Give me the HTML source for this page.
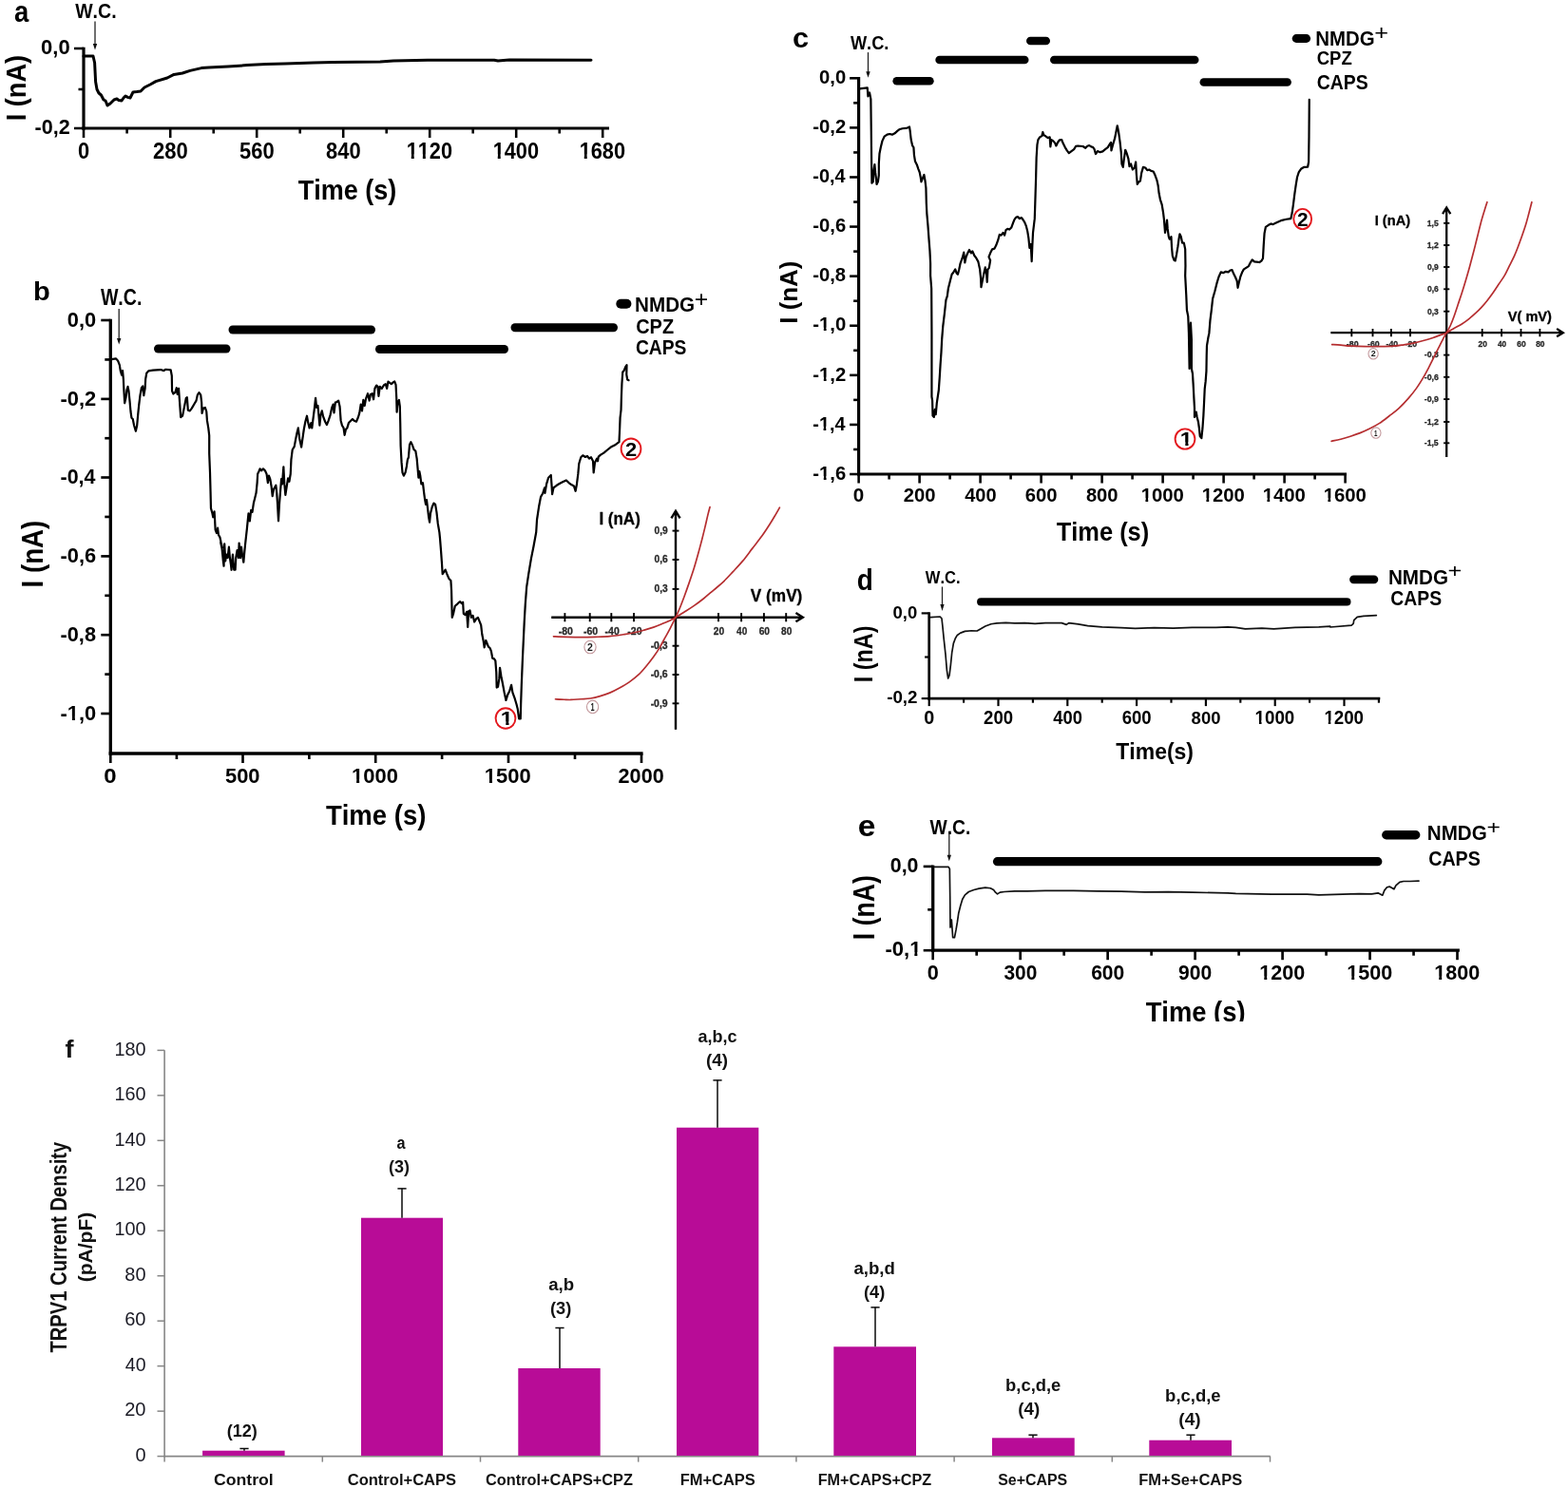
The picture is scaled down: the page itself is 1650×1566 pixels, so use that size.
<!DOCTYPE html>
<html lang="en"><head><meta charset="utf-8"><title>TRPV1 current density figure</title>
<style>html,body{margin:0;padding:0;background:#fff}body{width:1650px;height:1566px;overflow:hidden}svg{display:block}text{font-family:"Liberation Sans",sans-serif;font-kerning:none}</style>
</head><body>
<svg width="1650" height="1566" viewBox="0 0 1650 1566">
<rect width="1650" height="1566" fill="#fff"/>
<g id="panel-a">
<text transform="translate(15.08 22.8) scale(0.8527 1)" font-size="32.22" font-weight="bold" fill="#000">a</text>
<text transform="translate(79.2 18.5) scale(0.8641 1)" font-size="22.61" font-weight="bold" fill="#000">W.C.</text>
<line x1="100" y1="22.4" x2="100" y2="49.4" stroke="#222" stroke-width="1.3" stroke-linecap="butt"/>
<path d="M97.8 45.9L102.2 45.9L100 52.4Z" fill="#111"/>
<line x1="88" y1="49.72" x2="88" y2="136.6" stroke="#000" stroke-width="3.2" stroke-linecap="butt"/>
<line x1="86.4" y1="135" x2="641" y2="135" stroke="#000" stroke-width="3.2" stroke-linecap="butt"/>
<line x1="88" y1="135" x2="88" y2="145" stroke="#000" stroke-width="2.56" stroke-linecap="butt"/>
<line x1="179.2" y1="135" x2="179.2" y2="145" stroke="#000" stroke-width="2.56" stroke-linecap="butt"/>
<line x1="270.2" y1="135" x2="270.2" y2="145" stroke="#000" stroke-width="2.56" stroke-linecap="butt"/>
<line x1="361.2" y1="135" x2="361.2" y2="145" stroke="#000" stroke-width="2.56" stroke-linecap="butt"/>
<line x1="452.2" y1="135" x2="452.2" y2="145" stroke="#000" stroke-width="2.56" stroke-linecap="butt"/>
<line x1="543.2" y1="135" x2="543.2" y2="145" stroke="#000" stroke-width="2.56" stroke-linecap="butt"/>
<line x1="634.2" y1="135" x2="634.2" y2="145" stroke="#000" stroke-width="2.56" stroke-linecap="butt"/>
<line x1="133.6" y1="135" x2="133.6" y2="140.5" stroke="#000" stroke-width="2.56" stroke-linecap="butt"/>
<line x1="224.7" y1="135" x2="224.7" y2="140.5" stroke="#000" stroke-width="2.56" stroke-linecap="butt"/>
<line x1="315.7" y1="135" x2="315.7" y2="140.5" stroke="#000" stroke-width="2.56" stroke-linecap="butt"/>
<line x1="406.7" y1="135" x2="406.7" y2="140.5" stroke="#000" stroke-width="2.56" stroke-linecap="butt"/>
<line x1="497.7" y1="135" x2="497.7" y2="140.5" stroke="#000" stroke-width="2.56" stroke-linecap="butt"/>
<line x1="588.7" y1="135" x2="588.7" y2="140.5" stroke="#000" stroke-width="2.56" stroke-linecap="butt"/>
<line x1="78" y1="51" x2="88" y2="51" stroke="#000" stroke-width="2.56" stroke-linecap="butt"/>
<line x1="78" y1="135" x2="88" y2="135" stroke="#000" stroke-width="2.56" stroke-linecap="butt"/>
<line x1="82.5" y1="94" x2="88" y2="94" stroke="#000" stroke-width="2.56" stroke-linecap="butt"/>
<text transform="translate(81.92 166.6) scale(0.9177 1)" font-size="23.86" font-weight="bold" fill="#000">0</text>
<text transform="translate(160.93 166.6) scale(0.9227 1)" font-size="23.86" font-weight="bold" fill="#000">280</text>
<text transform="translate(252.04 166.6) scale(0.9198 1)" font-size="23.86" font-weight="bold" fill="#000">560</text>
<text transform="translate(343.04 166.6) scale(0.9198 1)" font-size="23.86" font-weight="bold" fill="#000">840</text>
<clipPath id="nf1"><path clip-rule="evenodd" d="M-500 -500H2000V500H-500ZM0.5 -4.23H5.57V1H0.5ZM8.84 -4.23H13.6V1H8.84ZM13.77 -4.23H18.84V1H13.77ZM22.11 -4.23H26.87V1H22.11Z"/></clipPath>
<text transform="translate(427.68 166.6) scale(0.9117 1)" font-size="23.86" font-weight="bold" fill="#000" clip-path="url(#nf1)">1120</text>
<clipPath id="nf2"><path clip-rule="evenodd" d="M-500 -500H2000V500H-500ZM0.5 -4.23H5.57V1H0.5ZM8.84 -4.23H13.6V1H8.84Z"/></clipPath>
<text transform="translate(518.68 166.6) scale(0.9117 1)" font-size="23.86" font-weight="bold" fill="#000" clip-path="url(#nf2)">1400</text>
<clipPath id="nf3"><path clip-rule="evenodd" d="M-500 -500H2000V500H-500ZM0.5 -4.23H5.57V1H0.5ZM8.84 -4.23H13.6V1H8.84Z"/></clipPath>
<text transform="translate(609.68 166.6) scale(0.9117 1)" font-size="23.86" font-weight="bold" fill="#000" clip-path="url(#nf3)">1680</text>
<text transform="translate(43.02 57.4) scale(0.9836 1)" font-size="22.43" font-weight="bold" fill="#000">0,0</text>
<text transform="translate(36.54 141.4) scale(0.9624 1)" font-size="22.43" font-weight="bold" fill="#000">-0,2</text>
<text transform="translate(313.73 209.6) scale(0.9139 1)" font-size="29.57" font-weight="bold" fill="#000">Time (s)</text>
<text transform="translate(27.1 127.37) rotate(-90) scale(0.9071 1)" font-size="30" font-weight="bold" fill="#000">I (nA)</text>
<path d="M88 59L98 59L99.6 66L100.6 86L102 94L104 98L106.4 100L109 105L111 106L113 111L116 109L120 105L123 104L125 105.6L128 106L130 103L132 101L134.4 102.4L137 103L140 97L144 96.6L148 96L152 92L158 89L164 85.6L176 82L183 78.4L192 77L200 74.4L212 71.6L220 71L240 70L260 68.6L280 67.6L300 67L330 66L350 65.4L400 65L414 64L450 63.2L520 63.2L524 64L536 63L622 63.2" fill="none" stroke="#000" stroke-width="3" stroke-linejoin="round" stroke-linecap="round"/>
</g>
<g id="panel-b">
<text transform="translate(35.01 316.3) scale(1.0767 1)" font-size="27.03" font-weight="bold" fill="#000">b</text>
<text transform="translate(105.9 321.1) scale(0.8289 1)" font-size="23.62" font-weight="bold" fill="#000">W.C.</text>
<line x1="125.2" y1="325" x2="125.2" y2="359.5" stroke="#222" stroke-width="1.3" stroke-linecap="butt"/>
<path d="M123 356L127.4 356L125.2 362.5Z" fill="#111"/>
<line x1="116.3" y1="335.68" x2="116.3" y2="794.65" stroke="#000" stroke-width="3.3" stroke-linecap="butt"/>
<line x1="114.65" y1="793" x2="676.6" y2="793" stroke="#000" stroke-width="3.3" stroke-linecap="butt"/>
<line x1="116.3" y1="793" x2="116.3" y2="803" stroke="#000" stroke-width="2.64" stroke-linecap="butt"/>
<line x1="255.5" y1="793" x2="255.5" y2="803" stroke="#000" stroke-width="2.64" stroke-linecap="butt"/>
<line x1="395.2" y1="793" x2="395.2" y2="803" stroke="#000" stroke-width="2.64" stroke-linecap="butt"/>
<line x1="535" y1="793" x2="535" y2="803" stroke="#000" stroke-width="2.64" stroke-linecap="butt"/>
<line x1="675" y1="793" x2="675" y2="803" stroke="#000" stroke-width="2.64" stroke-linecap="butt"/>
<line x1="185.9" y1="793" x2="185.9" y2="799" stroke="#000" stroke-width="2.64" stroke-linecap="butt"/>
<line x1="325.35" y1="793" x2="325.35" y2="799" stroke="#000" stroke-width="2.64" stroke-linecap="butt"/>
<line x1="465.1" y1="793" x2="465.1" y2="799" stroke="#000" stroke-width="2.64" stroke-linecap="butt"/>
<line x1="605" y1="793" x2="605" y2="799" stroke="#000" stroke-width="2.64" stroke-linecap="butt"/>
<line x1="106.3" y1="337" x2="116.3" y2="337" stroke="#000" stroke-width="2.64" stroke-linecap="butt"/>
<line x1="106.3" y1="419.9" x2="116.3" y2="419.9" stroke="#000" stroke-width="2.64" stroke-linecap="butt"/>
<line x1="106.3" y1="502.5" x2="116.3" y2="502.5" stroke="#000" stroke-width="2.64" stroke-linecap="butt"/>
<line x1="106.3" y1="585.4" x2="116.3" y2="585.4" stroke="#000" stroke-width="2.64" stroke-linecap="butt"/>
<line x1="106.3" y1="668.2" x2="116.3" y2="668.2" stroke="#000" stroke-width="2.64" stroke-linecap="butt"/>
<line x1="106.3" y1="751" x2="116.3" y2="751" stroke="#000" stroke-width="2.64" stroke-linecap="butt"/>
<line x1="110.3" y1="378.45" x2="116.3" y2="378.45" stroke="#000" stroke-width="2.64" stroke-linecap="butt"/>
<line x1="110.3" y1="461.2" x2="116.3" y2="461.2" stroke="#000" stroke-width="2.64" stroke-linecap="butt"/>
<line x1="110.3" y1="543.95" x2="116.3" y2="543.95" stroke="#000" stroke-width="2.64" stroke-linecap="butt"/>
<line x1="110.3" y1="626.8" x2="116.3" y2="626.8" stroke="#000" stroke-width="2.64" stroke-linecap="butt"/>
<line x1="110.3" y1="709.6" x2="116.3" y2="709.6" stroke="#000" stroke-width="2.64" stroke-linecap="butt"/>
<text transform="translate(109.24 823.8) scale(1.0839 1)" font-size="22.14" font-weight="bold" fill="#000">0</text>
<text transform="translate(236.94 823.8) scale(0.9910 1)" font-size="22.14" font-weight="bold" fill="#000">500</text>
<clipPath id="nf4"><path clip-rule="evenodd" d="M-500 -500H2000V500H-500ZM0.39 -4.06H5.17V1H0.39ZM8.21 -4.06H12.7V1H8.21Z"/></clipPath>
<text transform="translate(370.01 823.8) scale(0.9929 1)" font-size="22.14" font-weight="bold" fill="#000" clip-path="url(#nf4)">1000</text>
<clipPath id="nf5"><path clip-rule="evenodd" d="M-500 -500H2000V500H-500ZM0.39 -4.06H5.17V1H0.39ZM8.21 -4.06H12.7V1H8.21Z"/></clipPath>
<text transform="translate(509.81 823.8) scale(0.9929 1)" font-size="22.14" font-weight="bold" fill="#000" clip-path="url(#nf5)">1500</text>
<text transform="translate(650.59 823.8) scale(0.9767 1)" font-size="22.14" font-weight="bold" fill="#000">2000</text>
<text transform="translate(70.83 343.6) scale(0.9924 1)" font-size="22" font-weight="bold" fill="#000">0,0</text>
<text transform="translate(63.52 426.5) scale(0.9950 1)" font-size="22" font-weight="bold" fill="#000">-0,2</text>
<text transform="translate(63.54 509.1) scale(0.9742 1)" font-size="22" font-weight="bold" fill="#000">-0,4</text>
<text transform="translate(63.53 592) scale(0.9920 1)" font-size="22" font-weight="bold" fill="#000">-0,6</text>
<text transform="translate(63.53 674.8) scale(0.9890 1)" font-size="22" font-weight="bold" fill="#000">-0,8</text>
<clipPath id="nf6"><path clip-rule="evenodd" d="M-500 -500H2000V500H-500ZM7.71 -4.05H12.46V1H7.71ZM15.48 -4.05H19.95V1H15.48Z"/></clipPath>
<text transform="translate(63.52 757.6) scale(0.9950 1)" font-size="22" font-weight="bold" fill="#000" clip-path="url(#nf6)">-1,0</text>
<text transform="translate(342.93 868.2) scale(0.9300 1)" font-size="29.57" font-weight="bold" fill="#000">Time (s)</text>
<text transform="translate(45.4 618.5) rotate(-90) scale(0.8663 1)" font-size="32.03" font-weight="bold" fill="#000">I (nA)</text>
<line x1="166.5" y1="367" x2="238" y2="367" stroke="#000" stroke-width="9" stroke-linecap="round"/>
<line x1="245" y1="347" x2="390.5" y2="347" stroke="#000" stroke-width="9" stroke-linecap="round"/>
<line x1="399.5" y1="367.5" x2="530.5" y2="367.5" stroke="#000" stroke-width="9" stroke-linecap="round"/>
<line x1="542" y1="344.8" x2="645.5" y2="344.8" stroke="#000" stroke-width="9" stroke-linecap="round"/>
<line x1="653.3" y1="319.8" x2="659.4" y2="319.8" stroke="#000" stroke-width="10" stroke-linecap="round"/>
<text transform="translate(668.06 328) scale(0.9252 1)" font-size="22.32" font-weight="bold" fill="#000">NMDG</text>
<text transform="translate(730.86 322.5) scale(1.0709 1)" font-size="23.1" font-weight="normal" fill="#000">+</text>
<text transform="translate(669.2 350.7) scale(0.9176 1)" font-size="21.74" font-weight="bold" fill="#000">CPZ</text>
<text transform="translate(668.93 372.7) scale(0.8801 1)" font-size="21.88" font-weight="bold" fill="#000">CAPS</text>
<path d="M116.03 378.31L122.07 377.37L124.08 379.65L125.82 384.08L126.76 390.11L128.1 394.8L129.04 390.11L129.84 398.82L130.38 410.22L131.18 424.3L132.52 418.26L133.46 410.22L134.53 406.87L135.47 411.56L136.55 422.29L137.48 433.01L138.42 439.71L139.76 441.06L141.1 447.76L142.85 453.79L144.19 447.76L145.13 437.03L146.2 426.31L147.54 415.58L148.88 408.21L150.22 406.47L151.29 416.25L152.63 408.88L153.17 398.82L154.24 392.79L156.25 390.38L160.95 389.57L168.99 389.04L172.34 390.11L174.35 388.77L179.71 389.44L180.79 395.47L181.06 411.56L182.4 414.51L184.41 412.9L185.75 408.21L186.69 414.91L188.03 408.88L189.1 423.63L190.17 439.04L192.05 437.7L193.79 428.99L195.8 418.93L196.87 418.26L197.81 431.67L199.82 432.34L201.84 429.66L204.52 424.97L206.53 421.62L207.87 415.58L209.48 413.17L211.22 415.58L212.16 423.63L212.56 435.02L213.9 429.66L215.91 428.99L217.25 433.01L217.92 442.4L219.26 450.44L220.2 458.48L220.2 477.25L221.01 497.36L221.54 517.47L221.95 534.9L223.29 539.59L224.22 544.29L225.57 538.25L226.1 546.97L226.64 557.69L227.98 561.04L229.05 555.68L229.99 563.06L231.33 565.07L232.67 571.1L234.01 576.46L232.18 570.95L233.52 576.98L234.19 583.68L234.86 590.38L235.53 595.75L236.2 572.29L237.2 590.38L238.21 583.68L239.55 587.03L240.89 575.64L241.9 587.03L242.9 593.74L243.57 599.77L244.91 583.68L246.25 599.77L247.59 599.77L248.26 587.03L249.6 578.99L250.95 587.03L251.62 571.62L252.96 587.03L253.96 575.64L254.97 583.68L256.31 591.73L257.31 580.33L257.98 573.63L258.55 568.42L259.89 556.35L260.82 546.97L261.49 540.26L262.84 548.31L264.18 536.91L265.52 538.92L266.86 529.54L268.2 524.18L269.54 518.81L270.61 508.09L271.15 498.7L272.49 496.02L273.56 493.34L275.17 495.35L276.91 493.34L278.92 495.35L280.53 498.7L281.87 508.09L282.95 500.71L284.29 504.07L285.63 512.11L286.7 522.17L288.04 514.79L290.32 510.77L291.26 518.81L292.06 530.88L293 548.31L293.94 530.88L295.01 517.47L296.08 504.07L297.02 509.43L298.36 491.33L299.3 509.43L300.37 520.82L301.71 512.11L303.06 503.4L304.4 506.75L305.74 498.7L306.41 483.96L307.75 473.23L309.76 469.88L311.1 462.51L312.44 455.8L313.78 450.44L315.12 461.17L317.13 470.55L318.47 461.17L319.81 451.78L321.34 443.74L322.95 437.7L324.29 445.08L325.63 450.44L327.37 445.08L328.31 450.44L329.65 439.71L330.99 428.99L332.07 418.93L333.14 428.99L334.48 426.98L335.42 437.03L336.36 447.76L337.43 437.03L338.77 432.34L340.11 438.37L342.12 443.74L343.86 447.09L345.47 443.07L347.48 437.03L349.23 428.99L350.57 425.64L351.51 434.35L352.85 423.63L354.59 422.96L356.2 421.62L357.54 427.65L358.61 442.4L359.95 447.76L361.56 450.44L362.63 457.81L363.97 451.78L365.31 450.44L366.92 445.08L368.93 443.07L370.95 441.06L372.96 443.07L374.97 443.74L376.98 439.04L378.32 434.35L379.66 425.64L381 432.34L382.34 420.95L383.68 426.98L385.02 419.6L387.03 414.24L388.64 421.62L389.98 414.91L391.73 414.24L393.07 420.27L394.41 408.88L396.15 405.53L397.49 406.87L398.43 416.92L399.77 406.87L401.78 408.88L403.79 405.53L405.8 404.19L407.14 408.88L408.48 401.51L410.09 402.85L411.84 404.19L413.85 402.18L415.19 401.51L416.53 404.86L417.2 418.26L417.6 433.68L418.54 423.63L419.88 420.95L420.82 427.65L421.22 445.08L421.62 469.21L422.56 486.64L423.5 497.36L424.84 500.71L426.58 497.36L427.92 490.66L428.86 483.96L429.93 481.27L431.01 467.87L432.35 465.19L433.96 468.54L435.57 473.23L437.31 474.57L438.65 482.62L439.59 493.34L440.39 502.73L441.33 496.02L442.27 500.71L443.34 509.43L444.95 508.09L446.02 517.47L447.09 525.52L448.03 530.88L448.97 526.19L450.04 534.9L451.12 544.29L452.06 549.65L452.99 540.26L454.74 533.56L456.48 529.54L458.09 530.88L459.43 538.92L460.77 550.99L462.38 560.37L463.01 566.7L464.08 580.11L465.02 593.52L465.69 604.24L467.03 602.23L468.64 599.55L470.38 604.24L472.4 608.93L474.41 610.95L475.08 621.67L475.75 649.82L477.09 645.8L478.83 637.76L480.44 636.42L482.45 634.41L484.19 633.07L485.8 635.08L487.14 633.74L487.81 645.8L489.56 647.14L491.17 643.79L492.24 659.88L493.18 643.12L494.52 642.45L495.86 649.82L497.6 647.81L499.21 654.52L501.22 651.17L502.96 649.82L504.57 653.85L506.18 657.87L507.25 667.25L508.59 673.96L509.67 681.33L511.27 673.96L512.88 677.98L513.96 680.66L515.57 682L516.91 685.35L518.25 692.73L519.99 693.4L521.33 695.41L522.27 707.47L522.67 723.56L524.01 722.89L525.35 714.18L526.02 702.78L527.36 711.49L528.97 719.54L530.71 728.92L532.46 736.97L534.07 731.6L536.08 727.58L538.09 720.88L539.43 728.92L541.44 734.29L543.45 740.99L544.79 746.35L546.13 756.41L547.74 756.41L548.14 740.99L548.81 720.88L549.89 694.07L550.82 673.96L551.76 653.85L552.84 635.08L554.18 617.65L556.19 604.24L558.87 588.15L561.55 574.75L564.23 560L565.02 546.97L567.03 533.56L569.04 522.84L571.06 519.48L573.07 513.45L573.47 518.81L575.08 509.43L577.09 502.73L579.77 500.04L580.44 509.43L581.11 520.15L582.45 513.45L585.8 510.77L589.15 508.76L592.51 507.02L595.86 505.41L598.54 508.09L601.22 510.1L603.9 511.44L605.64 516.8L606.98 509.43L608.33 498.7L609.26 487.98L611.27 481.27L613.29 479.26L615.97 481.01L617.98 479.93L619.99 482.62L622 481.27L624.01 485.3L624.68 497.36L626.02 486.64L628.03 482.62L628.97 485.3L629.78 480.6L632.06 478.59L635.41 476.58L639.43 473.23L642.78 470.55L646.8 468.54L651.49 465.19L652.17 450.44L652.57 439.71L653.51 431.67L653.91 416.92L654.44 403.52L655.25 391.45L656.59 390.11L658.2 386.09L659.54 384.08L659.27 394.13L660.21 399.49L661.55 400.16" fill="none" stroke="#000" stroke-width="2.2" stroke-linejoin="round" stroke-linecap="round"/>
<ellipse cx="664" cy="472.5" rx="10.4" ry="11" fill="#fff" stroke="#e3171d" stroke-width="1.9"/>
<text transform="translate(657.98 479.7) scale(1.0417 1)" font-size="21" font-weight="bold" fill="#000">2</text>
<ellipse cx="532" cy="756" rx="10.4" ry="10.8" fill="#fff" stroke="#e3171d" stroke-width="1.9"/>
<clipPath id="nf7"><path clip-rule="evenodd" d="M-500 -500H2000V500H-500ZM0.32 -3.94H4.9V1H0.32ZM7.78 -3.94H12.09V1H7.78Z"/></clipPath>
<text transform="translate(526.87 763.2) scale(1.1111 1)" font-size="21" font-weight="bold" fill="#000" clip-path="url(#nf7)">1</text>
<text transform="translate(587.69 668.2) scale(1.0104 1)" font-size="10.43" font-weight="bold" fill="#2a2a2a" stroke="#2a2a2a" stroke-width="0.3">-80</text>
<text transform="translate(613.99 668.2) scale(1.0104 1)" font-size="10.43" font-weight="bold" fill="#2a2a2a" stroke="#2a2a2a" stroke-width="0.3">-60</text>
<text transform="translate(636.59 668.2) scale(1.0104 1)" font-size="10.43" font-weight="bold" fill="#2a2a2a" stroke="#2a2a2a" stroke-width="0.3">-40</text>
<text transform="translate(660.29 668.2) scale(1.0104 1)" font-size="10.43" font-weight="bold" fill="#2a2a2a" stroke="#2a2a2a" stroke-width="0.3">-20</text>
<text transform="translate(750.77 668.2) scale(0.9774 1)" font-size="10.43" font-weight="bold" fill="#2a2a2a" stroke="#2a2a2a" stroke-width="0.3">20</text>
<text transform="translate(775.08 668.2) scale(0.9589 1)" font-size="10.43" font-weight="bold" fill="#2a2a2a" stroke="#2a2a2a" stroke-width="0.3">40</text>
<text transform="translate(798.67 668.2) scale(0.9774 1)" font-size="10.43" font-weight="bold" fill="#2a2a2a" stroke="#2a2a2a" stroke-width="0.3">60</text>
<text transform="translate(822.02 668.2) scale(0.9727 1)" font-size="10.43" font-weight="bold" fill="#2a2a2a" stroke="#2a2a2a" stroke-width="0.3">80</text>
<text transform="translate(688.48 562.03) scale(0.9781 1)" font-size="10.43" font-weight="bold" fill="#2a2a2a" stroke="#2a2a2a" stroke-width="0.3">0,9</text>
<text transform="translate(688.48 592.43) scale(0.9781 1)" font-size="10.43" font-weight="bold" fill="#2a2a2a" stroke="#2a2a2a" stroke-width="0.3">0,6</text>
<text transform="translate(688.48 623.33) scale(0.9781 1)" font-size="10.43" font-weight="bold" fill="#2a2a2a" stroke="#2a2a2a" stroke-width="0.3">0,3</text>
<text transform="translate(684.63 683.13) scale(1.0053 1)" font-size="10.43" font-weight="bold" fill="#2a2a2a" stroke="#2a2a2a" stroke-width="0.3">-0,3</text>
<text transform="translate(684.63 713.43) scale(1.0053 1)" font-size="10.43" font-weight="bold" fill="#2a2a2a" stroke="#2a2a2a" stroke-width="0.3">-0,6</text>
<text transform="translate(684.63 743.73) scale(1.0053 1)" font-size="10.43" font-weight="bold" fill="#2a2a2a" stroke="#2a2a2a" stroke-width="0.3">-0,9</text>
<line x1="580.2" y1="649.7" x2="843.83" y2="649.7" stroke="#000" stroke-width="2.4" stroke-linecap="butt"/>
<line x1="711" y1="538.87" x2="711" y2="767.8" stroke="#000" stroke-width="2.4" stroke-linecap="butt"/>
<path d="M837.43 645.1L844.83 649.7L837.43 654.3" fill="none" stroke="#000" stroke-width="2.4"/>
<path d="M706.4 545.27L711 537.87L715.6 545.27" fill="none" stroke="#000" stroke-width="2.4"/>
<line x1="594.4" y1="645.1" x2="594.4" y2="654.3" stroke="#000" stroke-width="1.92" stroke-linecap="butt"/>
<line x1="620.7" y1="645.1" x2="620.7" y2="654.3" stroke="#000" stroke-width="1.92" stroke-linecap="butt"/>
<line x1="643.3" y1="645.1" x2="643.3" y2="654.3" stroke="#000" stroke-width="1.92" stroke-linecap="butt"/>
<line x1="667" y1="645.1" x2="667" y2="654.3" stroke="#000" stroke-width="1.92" stroke-linecap="butt"/>
<line x1="756" y1="645.1" x2="756" y2="654.3" stroke="#000" stroke-width="1.92" stroke-linecap="butt"/>
<line x1="780.1" y1="645.1" x2="780.1" y2="654.3" stroke="#000" stroke-width="1.92" stroke-linecap="butt"/>
<line x1="803.9" y1="645.1" x2="803.9" y2="654.3" stroke="#000" stroke-width="1.92" stroke-linecap="butt"/>
<line x1="827.2" y1="645.1" x2="827.2" y2="654.3" stroke="#000" stroke-width="1.92" stroke-linecap="butt"/>
<line x1="707.55" y1="558.6" x2="714.45" y2="558.6" stroke="#000" stroke-width="1.92" stroke-linecap="butt"/>
<line x1="707.55" y1="589" x2="714.45" y2="589" stroke="#000" stroke-width="1.92" stroke-linecap="butt"/>
<line x1="707.55" y1="619.9" x2="714.45" y2="619.9" stroke="#000" stroke-width="1.92" stroke-linecap="butt"/>
<line x1="707.55" y1="679.7" x2="714.45" y2="679.7" stroke="#000" stroke-width="1.92" stroke-linecap="butt"/>
<line x1="707.55" y1="710" x2="714.45" y2="710" stroke="#000" stroke-width="1.92" stroke-linecap="butt"/>
<line x1="707.55" y1="740.3" x2="714.45" y2="740.3" stroke="#000" stroke-width="1.92" stroke-linecap="butt"/>
<path d="M584.5 735.74C586.03 735.83 590.97 736.14 593.69 736.25C596.42 736.37 597.95 736.54 600.84 736.46C603.74 736.37 607.66 735.98 611.06 735.74C614.47 735.51 617.87 735.54 621.28 735.03C624.69 734.52 628.09 733.67 631.5 732.68C634.9 731.69 638.31 730.55 641.71 729.1C645.12 727.65 648.53 725.87 651.93 723.99C655.34 722.12 658.74 720.25 662.15 717.86C665.56 715.48 669.3 712.58 672.37 709.69C675.43 706.79 677.99 703.56 680.54 700.49C683.1 697.43 685.48 694.36 687.69 691.3C689.91 688.23 691.78 685.51 693.82 682.1C695.87 678.7 698.08 674.27 699.96 670.86C701.83 667.46 703.22 665.19 705.06 661.67C706.9 658.14 709.31 653.24 710.99 649.71C712.67 646.18 713.59 644.22 715.13 640.47C716.67 636.71 718.53 631.78 720.24 627.19C721.94 622.59 723.64 617.82 725.34 612.88C727.05 607.94 728.92 602.49 730.45 597.55C731.99 592.62 733.18 588.19 734.54 583.25C735.9 578.31 737.43 572.52 738.63 567.92C739.82 563.32 740.67 559.92 741.69 555.66C742.71 551.4 743.87 546.04 744.76 542.38C745.64 538.72 746.63 535.14 747.01 533.69" fill="none" stroke="#b52e30" stroke-width="1.7" stroke-linecap="round"/>
<path d="M582.45 669.84C584.67 669.93 590.97 670.21 595.74 670.35C600.5 670.49 605.95 670.66 611.06 670.66C616.17 670.66 621.28 670.52 626.39 670.35C631.5 670.18 636.61 670.1 641.71 669.64C646.82 669.18 652.78 668.24 657.04 667.59C661.3 666.94 663.85 666.49 667.26 665.75C670.66 665.02 674.07 664.14 677.48 663.2C680.88 662.26 684.29 661.33 687.69 660.13C691.1 658.94 694.85 657.32 697.91 656.05C700.98 654.77 703.91 653.53 706.09 652.47C708.27 651.41 708.63 651.12 710.99 649.71C713.35 648.31 716.99 646.1 720.24 644.04C723.48 641.99 727.05 639.79 730.45 637.4C733.86 635.02 737.26 632.46 740.67 629.74C744.08 627.01 747.48 623.95 750.89 621.05C754.29 618.16 757.7 615.61 761.11 612.37C764.51 609.13 767.92 605.3 771.32 601.64C774.73 597.98 778.14 594.49 781.54 590.4C784.95 586.31 788.35 581.55 791.76 577.12C795.16 572.69 798.91 568.09 801.98 563.84C805.04 559.58 807.77 555.32 810.15 551.57C812.53 547.83 814.58 544.25 816.28 541.36C817.98 538.46 819.69 535.4 820.37 534.2" fill="none" stroke="#b52e30" stroke-width="1.7" stroke-linecap="round"/>
<ellipse cx="621" cy="681" rx="6.11" ry="6.8" fill="#fff" stroke="#c49a9e" stroke-width="1.1"/>
<text transform="translate(618.11 684.78) scale(0.9722 1)" font-size="10.8" font-weight="bold" fill="#1a1a1a">2</text>
<ellipse cx="623.6" cy="743.9" rx="6.11" ry="6.8" fill="#fff" stroke="#c49a9e" stroke-width="1.1"/>
<text transform="translate(621.43 747.68) scale(0.6826 1)" font-size="10.8" font-weight="bold" fill="#1a1a1a">1</text>
<text transform="translate(630.39 552.3) scale(0.9541 1)" font-size="17.83" font-weight="bold" fill="#000" stroke="#000" stroke-width="0.3">I (nA)</text>
<text transform="translate(789.81 632.9) scale(0.9671 1)" font-size="17.83" font-weight="bold" fill="#000" stroke="#000" stroke-width="0.3">V (mV)</text>
</g>
<g id="panel-c">
<text transform="translate(834.07 50.2) scale(1.0116 1)" font-size="30.37" font-weight="bold" fill="#000">c</text>
<text transform="translate(894.9 51.6) scale(0.8924 1)" font-size="20.43" font-weight="bold" fill="#000">W.C.</text>
<line x1="913.5" y1="55.1" x2="913.5" y2="78.7" stroke="#222" stroke-width="1.3" stroke-linecap="butt"/>
<path d="M911.3 75.2L915.7 75.2L913.5 81.7Z" fill="#111"/>
<line x1="903.6" y1="81.02" x2="903.6" y2="500.6" stroke="#000" stroke-width="3.2" stroke-linecap="butt"/>
<line x1="902" y1="499" x2="1417" y2="499" stroke="#000" stroke-width="3.2" stroke-linecap="butt"/>
<line x1="903.6" y1="499" x2="903.6" y2="508.5" stroke="#000" stroke-width="2.56" stroke-linecap="butt"/>
<line x1="967.6" y1="499" x2="967.6" y2="508.5" stroke="#000" stroke-width="2.56" stroke-linecap="butt"/>
<line x1="1031.6" y1="499" x2="1031.6" y2="508.5" stroke="#000" stroke-width="2.56" stroke-linecap="butt"/>
<line x1="1095.6" y1="499" x2="1095.6" y2="508.5" stroke="#000" stroke-width="2.56" stroke-linecap="butt"/>
<line x1="1159.6" y1="499" x2="1159.6" y2="508.5" stroke="#000" stroke-width="2.56" stroke-linecap="butt"/>
<line x1="1223.6" y1="499" x2="1223.6" y2="508.5" stroke="#000" stroke-width="2.56" stroke-linecap="butt"/>
<line x1="1287.6" y1="499" x2="1287.6" y2="508.5" stroke="#000" stroke-width="2.56" stroke-linecap="butt"/>
<line x1="1351.6" y1="499" x2="1351.6" y2="508.5" stroke="#000" stroke-width="2.56" stroke-linecap="butt"/>
<line x1="1415.6" y1="499" x2="1415.6" y2="508.5" stroke="#000" stroke-width="2.56" stroke-linecap="butt"/>
<line x1="935.6" y1="499" x2="935.6" y2="504.5" stroke="#000" stroke-width="2.56" stroke-linecap="butt"/>
<line x1="999.6" y1="499" x2="999.6" y2="504.5" stroke="#000" stroke-width="2.56" stroke-linecap="butt"/>
<line x1="1063.6" y1="499" x2="1063.6" y2="504.5" stroke="#000" stroke-width="2.56" stroke-linecap="butt"/>
<line x1="1127.6" y1="499" x2="1127.6" y2="504.5" stroke="#000" stroke-width="2.56" stroke-linecap="butt"/>
<line x1="1191.6" y1="499" x2="1191.6" y2="504.5" stroke="#000" stroke-width="2.56" stroke-linecap="butt"/>
<line x1="1255.6" y1="499" x2="1255.6" y2="504.5" stroke="#000" stroke-width="2.56" stroke-linecap="butt"/>
<line x1="1319.6" y1="499" x2="1319.6" y2="504.5" stroke="#000" stroke-width="2.56" stroke-linecap="butt"/>
<line x1="1383.6" y1="499" x2="1383.6" y2="504.5" stroke="#000" stroke-width="2.56" stroke-linecap="butt"/>
<line x1="894.1" y1="82.3" x2="903.6" y2="82.3" stroke="#000" stroke-width="2.56" stroke-linecap="butt"/>
<line x1="894.1" y1="134.39" x2="903.6" y2="134.39" stroke="#000" stroke-width="2.56" stroke-linecap="butt"/>
<line x1="894.1" y1="186.48" x2="903.6" y2="186.48" stroke="#000" stroke-width="2.56" stroke-linecap="butt"/>
<line x1="894.1" y1="238.57" x2="903.6" y2="238.57" stroke="#000" stroke-width="2.56" stroke-linecap="butt"/>
<line x1="894.1" y1="290.66" x2="903.6" y2="290.66" stroke="#000" stroke-width="2.56" stroke-linecap="butt"/>
<line x1="894.1" y1="342.75" x2="903.6" y2="342.75" stroke="#000" stroke-width="2.56" stroke-linecap="butt"/>
<line x1="894.1" y1="394.84" x2="903.6" y2="394.84" stroke="#000" stroke-width="2.56" stroke-linecap="butt"/>
<line x1="894.1" y1="446.93" x2="903.6" y2="446.93" stroke="#000" stroke-width="2.56" stroke-linecap="butt"/>
<line x1="894.1" y1="499.02" x2="903.6" y2="499.02" stroke="#000" stroke-width="2.56" stroke-linecap="butt"/>
<line x1="898.1" y1="108.34" x2="903.6" y2="108.34" stroke="#000" stroke-width="2.56" stroke-linecap="butt"/>
<line x1="898.1" y1="160.44" x2="903.6" y2="160.44" stroke="#000" stroke-width="2.56" stroke-linecap="butt"/>
<line x1="898.1" y1="212.53" x2="903.6" y2="212.53" stroke="#000" stroke-width="2.56" stroke-linecap="butt"/>
<line x1="898.1" y1="264.62" x2="903.6" y2="264.62" stroke="#000" stroke-width="2.56" stroke-linecap="butt"/>
<line x1="898.1" y1="316.71" x2="903.6" y2="316.71" stroke="#000" stroke-width="2.56" stroke-linecap="butt"/>
<line x1="898.1" y1="368.8" x2="903.6" y2="368.8" stroke="#000" stroke-width="2.56" stroke-linecap="butt"/>
<line x1="898.1" y1="420.88" x2="903.6" y2="420.88" stroke="#000" stroke-width="2.56" stroke-linecap="butt"/>
<line x1="898.1" y1="472.98" x2="903.6" y2="472.98" stroke="#000" stroke-width="2.56" stroke-linecap="butt"/>
<text transform="translate(897.87 527.9) scale(0.9892 1)" font-size="20.86" font-weight="bold" fill="#000">0</text>
<text transform="translate(950.79 527.9) scale(0.9710 1)" font-size="20.86" font-weight="bold" fill="#000">200</text>
<text transform="translate(1015.2 527.9) scale(0.9589 1)" font-size="20.86" font-weight="bold" fill="#000">400</text>
<text transform="translate(1078.79 527.9) scale(0.9710 1)" font-size="20.86" font-weight="bold" fill="#000">600</text>
<text transform="translate(1142.89 527.9) scale(0.9679 1)" font-size="20.86" font-weight="bold" fill="#000">800</text>
<clipPath id="nf8"><path clip-rule="evenodd" d="M-500 -500H2000V500H-500ZM0.31 -3.93H4.87V1H0.31ZM7.73 -3.93H12.02V1H7.73Z"/></clipPath>
<text transform="translate(1200.68 527.9) scale(0.9748 1)" font-size="20.86" font-weight="bold" fill="#000" clip-path="url(#nf8)">1000</text>
<clipPath id="nf9"><path clip-rule="evenodd" d="M-500 -500H2000V500H-500ZM0.31 -3.93H4.87V1H0.31ZM7.73 -3.93H12.02V1H7.73Z"/></clipPath>
<text transform="translate(1264.68 527.9) scale(0.9748 1)" font-size="20.86" font-weight="bold" fill="#000" clip-path="url(#nf9)">1200</text>
<clipPath id="nf10"><path clip-rule="evenodd" d="M-500 -500H2000V500H-500ZM0.31 -3.93H4.87V1H0.31ZM7.73 -3.93H12.02V1H7.73Z"/></clipPath>
<text transform="translate(1328.68 527.9) scale(0.9748 1)" font-size="20.86" font-weight="bold" fill="#000" clip-path="url(#nf10)">1400</text>
<clipPath id="nf11"><path clip-rule="evenodd" d="M-500 -500H2000V500H-500ZM0.31 -3.93H4.87V1H0.31ZM7.73 -3.93H12.02V1H7.73Z"/></clipPath>
<text transform="translate(1392.68 527.9) scale(0.9748 1)" font-size="20.86" font-weight="bold" fill="#000" clip-path="url(#nf11)">1600</text>
<text transform="translate(862.09 88) scale(1.0261 1)" font-size="19.71" font-weight="bold" fill="#000">0,0</text>
<text transform="translate(855.29 140.09) scale(1.0300 1)" font-size="19.71" font-weight="bold" fill="#000">-0,2</text>
<text transform="translate(855.3 192.18) scale(1.0084 1)" font-size="19.71" font-weight="bold" fill="#000">-0,4</text>
<text transform="translate(855.29 244.27) scale(1.0268 1)" font-size="19.71" font-weight="bold" fill="#000">-0,6</text>
<text transform="translate(855.29 296.36) scale(1.0237 1)" font-size="19.71" font-weight="bold" fill="#000">-0,8</text>
<clipPath id="nf12"><path clip-rule="evenodd" d="M-500 -500H2000V500H-500ZM6.81 -3.81H11.17V1H6.81ZM13.87 -3.81H17.98V1H13.87Z"/></clipPath>
<text transform="translate(855.29 348.45) scale(1.0300 1)" font-size="19.71" font-weight="bold" fill="#000" clip-path="url(#nf12)">-1,0</text>
<clipPath id="nf13"><path clip-rule="evenodd" d="M-500 -500H2000V500H-500ZM6.81 -3.81H11.17V1H6.81ZM13.87 -3.81H17.98V1H13.87Z"/></clipPath>
<text transform="translate(855.29 400.54) scale(1.0300 1)" font-size="19.71" font-weight="bold" fill="#000" clip-path="url(#nf13)">-1,2</text>
<clipPath id="nf14"><path clip-rule="evenodd" d="M-500 -500H2000V500H-500ZM6.81 -3.81H11.17V1H6.81ZM13.87 -3.81H17.98V1H13.87Z"/></clipPath>
<text transform="translate(855.3 452.63) scale(1.0084 1)" font-size="19.71" font-weight="bold" fill="#000" clip-path="url(#nf14)">-1,4</text>
<clipPath id="nf15"><path clip-rule="evenodd" d="M-500 -500H2000V500H-500ZM6.81 -3.81H11.17V1H6.81ZM13.87 -3.81H17.98V1H13.87Z"/></clipPath>
<text transform="translate(855.29 504.72) scale(1.0268 1)" font-size="19.71" font-weight="bold" fill="#000" clip-path="url(#nf15)">-1,6</text>
<text transform="translate(1111.75 568.6) scale(0.9045 1)" font-size="28.12" font-weight="bold" fill="#000">Time (s)</text>
<text transform="translate(839 340.68) rotate(-90) scale(0.9843 1)" font-size="26.23" font-weight="bold" fill="#000">I (nA)</text>
<line x1="943.7" y1="85.2" x2="978.4" y2="85.2" stroke="#000" stroke-width="8.6" stroke-linecap="round"/>
<line x1="988.6" y1="63" x2="1078.2" y2="63" stroke="#000" stroke-width="8.6" stroke-linecap="round"/>
<line x1="1084.3" y1="43" x2="1100.7" y2="43" stroke="#000" stroke-width="8.6" stroke-linecap="round"/>
<line x1="1109.3" y1="63" x2="1257.2" y2="63" stroke="#000" stroke-width="8.6" stroke-linecap="round"/>
<line x1="1266.8" y1="86.5" x2="1354.6" y2="86.5" stroke="#000" stroke-width="8.6" stroke-linecap="round"/>
<line x1="1364.1" y1="40.5" x2="1374.7" y2="40.5" stroke="#000" stroke-width="8.8" stroke-linecap="round"/>
<text transform="translate(1384.27 47.6) scale(0.9265 1)" font-size="22.03" font-weight="bold" fill="#000">NMDG</text>
<text transform="translate(1446.23 42.2) scale(1.1862 1)" font-size="21.38" font-weight="normal" fill="#000">+</text>
<text transform="translate(1385.76 68.2) scale(0.9118 1)" font-size="20.29" font-weight="bold" fill="#000">CPZ</text>
<text transform="translate(1385.72 93.6) scale(0.8868 1)" font-size="21.88" font-weight="bold" fill="#000">CAPS</text>
<path d="M904.69 93.41L912.74 92.33L913.41 101.45L915.02 97.43L916.36 104.13L916.76 137.65L917.16 173.85L917.43 192.62L918.77 191.27L919.44 179.21L920.38 173.18L921.18 181.89L921.85 187.25L922.52 193.96L923.86 191.27L924.8 184.57L924.8 172.51L925.47 161.78L926.81 155.08L928.42 148.37L930.57 143.68L933.52 141.67L936.2 141L938.88 141.67L941.56 140.33L944.24 137.92L946.25 136.31L949.6 135.24L953.63 134.97L955.64 134.3L956.98 133.36L957.65 137.65L958.72 147.03L960.06 153.07L961.4 155.08L961.94 163.12L963.01 169.82L965.02 173.85L966.36 177.87L967.7 181.22L968.64 185.91L969.45 191.27L971.06 187.25L972.4 183.9L973.47 189.93L974.41 197.98L974.81 214.07L975.35 224.79L976.42 236.86L977.49 251.6L978.43 263.67L979.1 277.08L979.1 290.11L980.17 303.52L980.44 350.44L980.44 417.47L981.11 421.49L981.51 437.58L982.85 438.92L983.79 430.88L984.73 436.24L985.8 424.18L987.81 410.77L988.75 397.36L989.56 383.96L990.49 370.55L991.17 357.14L992.24 343.74L993.85 330.33L995.46 315.58L996.8 311.56L997.87 303.52L999.88 295.47L1001.62 288.77L1003.23 286.76L1005.24 283.41L1006.58 287.43L1007.92 288.77L1009.26 283.41L1010.6 277.08L1012.62 271.71L1014.22 265.68L1015.3 276.41L1016.64 270.37L1017.98 267.02L1019.99 263L1022 266.35L1023.34 264.34L1025.35 269.03L1027.36 271.71L1029.37 275.36L1031.12 283.41L1032.06 292.79L1032.46 302.18L1034.07 294.13L1035.41 287.43L1036.75 281.4L1038.09 288.77L1038.76 296.81L1039.43 283.41L1040.77 282.07L1042.11 274.02L1040.5 270.37L1042.11 266.35L1044.12 262.33L1046.4 261.66L1048.14 258.31L1050.15 252.95L1051.76 246.91L1053.51 247.58L1055.52 244.9L1057.13 247.58L1058.47 242.22L1060.21 240.88L1062.22 241.55L1064.23 239.54L1066.24 234.18L1067.58 230.82L1069.19 228.81L1070.93 228.14L1072.95 230.15L1074.96 229.08L1076.7 231.49L1078.31 234.18L1079.92 238.2L1081.26 243.56L1082.33 250.26L1083.4 260.99L1084.74 256.97L1085.68 275.07L1086.35 258.31L1087.02 244.9L1088.77 230.15L1089.3 214.07L1090.11 187.25L1090.64 165.8L1091.45 152.4L1092.39 147.03L1094.13 144.35L1096.41 143.01L1097.35 138.99L1098.42 142.34L1100 143.01L1102.68 145.02L1104.69 144.35L1105.36 154.41L1106.44 147.03L1108.31 148.37L1110.05 150.38L1111.4 153.47L1113.14 149.71L1115.02 147.3L1117.16 147.03L1118.77 151.06L1120.78 155.08L1122.79 158.43L1124.8 161.11L1127.48 159.1L1130.16 157.09L1132.18 153.74L1134.19 153.47L1136.87 153.74L1139.55 154L1142.23 155.75L1144.24 153.74L1146.25 153.07L1148.26 154.41L1150.27 155.08L1151.62 157.09L1152.96 162.05L1154.97 159.1L1157.65 160.17L1160.33 159.37L1163.01 157.09L1165.69 155.08L1167.7 151.73L1169.04 149.98L1169.45 158.43L1171.06 152.4L1173.07 145.69L1174.41 138.99L1175.75 132.29L1177.09 138.99L1178.43 148.37L1179.77 160.44L1180.44 172.51L1181.78 175.86L1182.85 167.14L1184.19 157.76L1185.8 161.78L1187.41 167.14L1188.48 175.19L1190.09 172.51L1191.84 178.54L1193.85 176.53L1195.19 170.49L1195.86 183.23L1196.8 193.96L1198.54 191.27L1199.88 190.6L1201.22 181.89L1202.96 175.86L1205.24 176.53L1207.25 179.21L1209.26 178.54L1211.27 179.88L1213.69 180.55L1215.57 184.57L1217.31 189.26L1218.65 195.3L1219.59 203.34L1220.93 210.04L1222.67 215.41L1224.01 223.45L1224.95 231.49L1226.02 244.9L1227.09 239.54L1228.03 231.49L1228.7 240.88L1229.78 248.92L1230.71 251.6L1232.46 249.19L1232.99 259.65L1233.8 269.03L1235.41 273.73L1236.75 274.4L1238.09 267.69L1239.43 259.65L1240.5 251.6L1241.44 246.24L1242.78 248.92L1244.12 255.63L1245.86 255.63L1247.2 262.33L1247.47 279.76L1247.19 290.11L1248.26 310.22L1248.93 326.31L1250.27 333.01L1250.95 350.44L1251.62 387.98L1252.29 350.44L1252.96 339.71L1253.89 357.14L1253.89 387.98L1254.97 393.34L1255.64 404.07L1256.31 417.47L1256.98 429.54L1256.98 438.92L1258.72 433.56L1259.66 438.92L1261 444.29L1261.94 450.99L1262.74 459.03L1264.35 461.04L1265.42 450.99L1266.36 437.58L1267.03 424.18L1267.7 409.43L1268.64 401.38L1269.45 390.66L1269.71 374.57L1269.98 363.85L1271.32 355.8L1272.4 350.44L1273.47 337.03L1274.81 326.31L1276.15 314.24L1278.43 306.2L1280.44 298.15L1282.45 291.45L1284.73 286.36L1287.14 287.16L1289.82 285.82L1292.51 286.36L1294.52 284.48L1296.53 284.08L1298.14 288.1L1299.88 291.45L1301.62 295.47L1302.56 302.85L1303.9 296.81L1305.24 291.45L1306.98 286.76L1308.86 283.41L1311.27 281.8L1313.96 280.05L1315.97 276.03L1317.71 273.35L1319.99 275.36L1322.27 275.63L1325.35 276.03L1327.36 274.69L1328.97 272.01L1329.76 257.58L1330.57 245.52L1331.91 238.81L1334.86 236.8L1337.54 235.46L1339.55 236.13L1342.23 234.79L1345.58 233.18L1348.93 231.84L1353.63 230.77L1358.32 230.1L1359.66 224.07L1361 214.68L1362.34 203.96L1363.68 194.57L1365.02 186.53L1366.76 181.17L1369.04 177.81L1372.4 175.8L1376.15 175.53L1377.09 170.44L1377.49 143.63L1377.76 104.75" fill="none" stroke="#000" stroke-width="2.2" stroke-linejoin="round" stroke-linecap="round"/>
<ellipse cx="1370.7" cy="230.5" rx="9.4" ry="10.6" fill="#fff" stroke="#e3171d" stroke-width="1.9"/>
<text transform="translate(1364.97 237.5) scale(1.0198 1)" font-size="20.43" font-weight="bold" fill="#000">2</text>
<ellipse cx="1247" cy="462" rx="10.4" ry="10.6" fill="#fff" stroke="#e3171d" stroke-width="1.9"/>
<clipPath id="nf16"><path clip-rule="evenodd" d="M-500 -500H2000V500H-500ZM0.32 -3.94H4.9V1H0.32ZM7.78 -3.94H12.09V1H7.78Z"/></clipPath>
<text transform="translate(1241.87 469.2) scale(1.1111 1)" font-size="21" font-weight="bold" fill="#000" clip-path="url(#nf16)">1</text>
<text transform="translate(1416.87 364.8) scale(1.0048 1)" font-size="8.71" font-weight="bold" fill="#2a2a2a" stroke="#2a2a2a" stroke-width="0.3">-80</text>
<text transform="translate(1439.07 364.8) scale(1.0048 1)" font-size="8.71" font-weight="bold" fill="#2a2a2a" stroke="#2a2a2a" stroke-width="0.3">-60</text>
<text transform="translate(1458.47 364.8) scale(1.0048 1)" font-size="8.71" font-weight="bold" fill="#2a2a2a" stroke="#2a2a2a" stroke-width="0.3">-40</text>
<text transform="translate(1478.57 364.8) scale(1.0048 1)" font-size="8.71" font-weight="bold" fill="#2a2a2a" stroke="#2a2a2a" stroke-width="0.3">-20</text>
<text transform="translate(1555.43 364.8) scale(0.9701 1)" font-size="8.71" font-weight="bold" fill="#2a2a2a" stroke="#2a2a2a" stroke-width="0.3">20</text>
<text transform="translate(1576 364.8) scale(0.9518 1)" font-size="8.71" font-weight="bold" fill="#2a2a2a" stroke="#2a2a2a" stroke-width="0.3">40</text>
<text transform="translate(1596.23 364.8) scale(0.9701 1)" font-size="8.71" font-weight="bold" fill="#2a2a2a" stroke="#2a2a2a" stroke-width="0.3">60</text>
<text transform="translate(1616.17 364.8) scale(0.9655 1)" font-size="8.71" font-weight="bold" fill="#2a2a2a" stroke="#2a2a2a" stroke-width="0.3">80</text>
<text transform="translate(1501.78 237.67) scale(0.9856 1)" font-size="8.71" font-weight="bold" fill="#2a2a2a" stroke="#2a2a2a" stroke-width="0.3">1,5</text>
<text transform="translate(1501.77 260.87) scale(0.9971 1)" font-size="8.71" font-weight="bold" fill="#2a2a2a" stroke="#2a2a2a" stroke-width="0.3">1,2</text>
<text transform="translate(1501.95 283.87) scale(0.9781 1)" font-size="8.71" font-weight="bold" fill="#2a2a2a" stroke="#2a2a2a" stroke-width="0.3">0,9</text>
<text transform="translate(1501.95 307.17) scale(0.9781 1)" font-size="8.71" font-weight="bold" fill="#2a2a2a" stroke="#2a2a2a" stroke-width="0.3">0,6</text>
<text transform="translate(1501.95 330.57) scale(0.9781 1)" font-size="8.71" font-weight="bold" fill="#2a2a2a" stroke="#2a2a2a" stroke-width="0.3">0,3</text>
<text transform="translate(1498.74 376.47) scale(1.0053 1)" font-size="8.71" font-weight="bold" fill="#2a2a2a" stroke="#2a2a2a" stroke-width="0.3">-0,3</text>
<text transform="translate(1498.74 399.67) scale(1.0053 1)" font-size="8.71" font-weight="bold" fill="#2a2a2a" stroke="#2a2a2a" stroke-width="0.3">-0,6</text>
<text transform="translate(1498.74 422.97) scale(1.0053 1)" font-size="8.71" font-weight="bold" fill="#2a2a2a" stroke="#2a2a2a" stroke-width="0.3">-0,9</text>
<text transform="translate(1498.74 446.87) scale(1.0084 1)" font-size="8.71" font-weight="bold" fill="#2a2a2a" stroke="#2a2a2a" stroke-width="0.3">-1,2</text>
<text transform="translate(1498.74 469.17) scale(0.9992 1)" font-size="8.71" font-weight="bold" fill="#2a2a2a" stroke="#2a2a2a" stroke-width="0.3">-1,5</text>
<line x1="1400.3" y1="350.15" x2="1643.82" y2="350.15" stroke="#000" stroke-width="2.3" stroke-linecap="butt"/>
<line x1="1522.2" y1="219.48" x2="1522.2" y2="481" stroke="#000" stroke-width="2.3" stroke-linecap="butt"/>
<path d="M1638.16 346.01L1644.82 350.15L1638.16 354.29" fill="none" stroke="#000" stroke-width="2.3"/>
<path d="M1518.06 225.14L1522.2 218.48L1526.34 225.14" fill="none" stroke="#000" stroke-width="2.3"/>
<line x1="1422.3" y1="346.01" x2="1422.3" y2="354.29" stroke="#000" stroke-width="1.84" stroke-linecap="butt"/>
<line x1="1444.5" y1="346.01" x2="1444.5" y2="354.29" stroke="#000" stroke-width="1.84" stroke-linecap="butt"/>
<line x1="1463.9" y1="346.01" x2="1463.9" y2="354.29" stroke="#000" stroke-width="1.84" stroke-linecap="butt"/>
<line x1="1484" y1="346.01" x2="1484" y2="354.29" stroke="#000" stroke-width="1.84" stroke-linecap="butt"/>
<line x1="1559.7" y1="346.01" x2="1559.7" y2="354.29" stroke="#000" stroke-width="1.84" stroke-linecap="butt"/>
<line x1="1580.1" y1="346.01" x2="1580.1" y2="354.29" stroke="#000" stroke-width="1.84" stroke-linecap="butt"/>
<line x1="1600.5" y1="346.01" x2="1600.5" y2="354.29" stroke="#000" stroke-width="1.84" stroke-linecap="butt"/>
<line x1="1620.4" y1="346.01" x2="1620.4" y2="354.29" stroke="#000" stroke-width="1.84" stroke-linecap="butt"/>
<line x1="1519.1" y1="234.8" x2="1525.31" y2="234.8" stroke="#000" stroke-width="1.84" stroke-linecap="butt"/>
<line x1="1519.1" y1="258" x2="1525.31" y2="258" stroke="#000" stroke-width="1.84" stroke-linecap="butt"/>
<line x1="1519.1" y1="281" x2="1525.31" y2="281" stroke="#000" stroke-width="1.84" stroke-linecap="butt"/>
<line x1="1519.1" y1="304.3" x2="1525.31" y2="304.3" stroke="#000" stroke-width="1.84" stroke-linecap="butt"/>
<line x1="1519.1" y1="327.7" x2="1525.31" y2="327.7" stroke="#000" stroke-width="1.84" stroke-linecap="butt"/>
<line x1="1519.1" y1="373.6" x2="1525.31" y2="373.6" stroke="#000" stroke-width="1.84" stroke-linecap="butt"/>
<line x1="1519.1" y1="396.8" x2="1525.31" y2="396.8" stroke="#000" stroke-width="1.84" stroke-linecap="butt"/>
<line x1="1519.1" y1="420.1" x2="1525.31" y2="420.1" stroke="#000" stroke-width="1.84" stroke-linecap="butt"/>
<line x1="1519.1" y1="444" x2="1525.31" y2="444" stroke="#000" stroke-width="1.84" stroke-linecap="butt"/>
<line x1="1519.1" y1="466.3" x2="1525.31" y2="466.3" stroke="#000" stroke-width="1.84" stroke-linecap="butt"/>
<path d="M1401.12 464.3C1402.74 463.96 1407.51 463.11 1410.83 462.26C1414.15 461.41 1417.64 460.3 1421.04 459.19C1424.45 458.09 1427.86 456.98 1431.26 455.62C1434.67 454.26 1438.07 452.72 1441.48 451.02C1444.89 449.32 1448.29 447.61 1451.7 445.4C1455.1 443.19 1458.51 440.38 1461.91 437.74C1465.32 435.1 1468.73 432.71 1472.13 429.56C1475.54 426.41 1479.28 422.33 1482.35 418.83C1485.42 415.34 1487.97 412.19 1490.52 408.62C1493.08 405.04 1495.46 401.12 1497.68 397.38C1499.89 393.63 1501.93 389.71 1503.81 386.14C1505.68 382.56 1507.21 379.33 1508.92 375.92C1510.62 372.51 1512.49 368.77 1514.02 365.7C1515.56 362.64 1516.75 360.12 1518.11 357.53C1519.47 354.94 1520.87 352.59 1522.2 350.17C1523.52 347.75 1524.74 345.9 1526.07 343C1527.39 340.1 1528.79 336.53 1530.15 332.78C1531.52 329.03 1532.88 324.61 1534.24 320.52C1535.6 316.43 1536.96 312.51 1538.33 308.26C1539.69 304 1541.05 299.57 1542.41 294.97C1543.78 290.38 1545.14 285.61 1546.5 280.67C1547.86 275.73 1549.23 270.62 1550.59 265.34C1551.95 260.06 1553.4 254.1 1554.68 248.99C1555.95 243.89 1557.06 239.12 1558.25 234.69C1559.44 230.26 1560.72 226.09 1561.83 222.43C1562.93 218.77 1564.38 214.34 1564.89 212.72" fill="none" stroke="#b52e30" stroke-width="1.7" stroke-linecap="round"/>
<path d="M1401.63 362.64C1403.16 362.72 1407.59 362.89 1410.83 363.15C1414.06 363.4 1416.79 363.91 1421.04 364.17C1425.3 364.43 1431.26 364.6 1436.37 364.68C1441.48 364.77 1446.59 364.77 1451.7 364.68C1456.81 364.6 1462.77 364.48 1467.02 364.17C1471.28 363.86 1473.84 363.35 1477.24 362.84C1480.65 362.33 1484.05 361.82 1487.46 361.1C1490.86 360.39 1494.27 359.49 1497.68 358.55C1501.08 357.61 1504.83 356.51 1507.89 355.49C1510.96 354.46 1513.68 353.31 1516.07 352.42C1518.45 351.53 1519.85 351.32 1522.2 350.17C1524.55 349.03 1527.46 347.09 1530.15 345.55C1532.84 344.01 1535.77 342.57 1538.33 340.95C1540.88 339.34 1543.1 337.72 1545.48 335.84C1547.86 333.97 1550.42 331.76 1552.63 329.71C1554.85 327.67 1556.72 325.8 1558.76 323.58C1560.81 321.37 1562.85 318.99 1564.89 316.43C1566.94 313.88 1568.98 311.15 1571.02 308.26C1573.07 305.36 1575.11 302.13 1577.15 299.06C1579.2 296 1581.41 293.1 1583.28 289.87C1585.16 286.63 1586.69 283.05 1588.39 279.65C1590.1 276.24 1591.97 272.84 1593.5 269.43C1595.03 266.02 1596.23 262.79 1597.59 259.21C1598.95 255.64 1600.31 251.89 1601.68 247.97C1603.04 244.06 1604.57 239.63 1605.76 235.71C1606.96 231.79 1607.81 228.3 1608.83 224.47C1609.85 220.64 1611.38 214.68 1611.89 212.72" fill="none" stroke="#b52e30" stroke-width="1.7" stroke-linecap="round"/>
<ellipse cx="1445.1" cy="372.3" rx="5.14" ry="5.72" fill="#fff" stroke="#c49a9e" stroke-width="1.1"/>
<text transform="translate(1442.67 375.48) scale(0.9722 1)" font-size="9.09" font-weight="bold" fill="#1a1a1a">2</text>
<ellipse cx="1447.9" cy="455.6" rx="5.14" ry="5.72" fill="#fff" stroke="#c49a9e" stroke-width="1.1"/>
<text transform="translate(1446.07 458.78) scale(0.6826 1)" font-size="9.09" font-weight="bold" fill="#1a1a1a">1</text>
<text transform="translate(1446.75 236.6) scale(0.9996 1)" font-size="14.64" font-weight="bold" fill="#000" stroke="#000" stroke-width="0.3">I (nA)</text>
<text transform="translate(1586.73 337.5) scale(1.0609 1)" font-size="13.77" font-weight="bold" fill="#000" stroke="#000" stroke-width="0.3">V( mV)</text>
</g>
<g id="panel-d">
<text transform="translate(901.68 621.4) scale(0.9160 1)" font-size="30.48" font-weight="bold" fill="#000">d</text>
<text transform="translate(973.8 614) scale(0.8635 1)" font-size="19.13" font-weight="bold" fill="#000">W.C.</text>
<line x1="991.5" y1="617.5" x2="991.5" y2="640" stroke="#222" stroke-width="1.3" stroke-linecap="butt"/>
<path d="M989.4 636L993.6 636L991.5 643Z" fill="#111"/>
<line x1="977.7" y1="644.32" x2="977.7" y2="736.45" stroke="#000" stroke-width="2.7" stroke-linecap="butt"/>
<line x1="976.35" y1="735.1" x2="1452.3" y2="735.1" stroke="#000" stroke-width="2.7" stroke-linecap="butt"/>
<line x1="977.7" y1="735.1" x2="977.7" y2="743.1" stroke="#000" stroke-width="2.16" stroke-linecap="butt"/>
<line x1="1050.5" y1="735.1" x2="1050.5" y2="743.1" stroke="#000" stroke-width="2.16" stroke-linecap="butt"/>
<line x1="1123.3" y1="735.1" x2="1123.3" y2="743.1" stroke="#000" stroke-width="2.16" stroke-linecap="butt"/>
<line x1="1196.1" y1="735.1" x2="1196.1" y2="743.1" stroke="#000" stroke-width="2.16" stroke-linecap="butt"/>
<line x1="1268.9" y1="735.1" x2="1268.9" y2="743.1" stroke="#000" stroke-width="2.16" stroke-linecap="butt"/>
<line x1="1341.7" y1="735.1" x2="1341.7" y2="743.1" stroke="#000" stroke-width="2.16" stroke-linecap="butt"/>
<line x1="1414.5" y1="735.1" x2="1414.5" y2="743.1" stroke="#000" stroke-width="2.16" stroke-linecap="butt"/>
<line x1="1014.1" y1="735.1" x2="1014.1" y2="739.7" stroke="#000" stroke-width="2.16" stroke-linecap="butt"/>
<line x1="1086.9" y1="735.1" x2="1086.9" y2="739.7" stroke="#000" stroke-width="2.16" stroke-linecap="butt"/>
<line x1="1159.7" y1="735.1" x2="1159.7" y2="739.7" stroke="#000" stroke-width="2.16" stroke-linecap="butt"/>
<line x1="1232.5" y1="735.1" x2="1232.5" y2="739.7" stroke="#000" stroke-width="2.16" stroke-linecap="butt"/>
<line x1="1305.3" y1="735.1" x2="1305.3" y2="739.7" stroke="#000" stroke-width="2.16" stroke-linecap="butt"/>
<line x1="1378.1" y1="735.1" x2="1378.1" y2="739.7" stroke="#000" stroke-width="2.16" stroke-linecap="butt"/>
<line x1="1450.9" y1="735.1" x2="1450.9" y2="739.7" stroke="#000" stroke-width="2.16" stroke-linecap="butt"/>
<line x1="969.7" y1="645.4" x2="977.7" y2="645.4" stroke="#000" stroke-width="2.16" stroke-linecap="butt"/>
<line x1="969.7" y1="735.1" x2="977.7" y2="735.1" stroke="#000" stroke-width="2.16" stroke-linecap="butt"/>
<line x1="973.1" y1="691.5" x2="977.7" y2="691.5" stroke="#000" stroke-width="2.16" stroke-linecap="butt"/>
<text transform="translate(972.21 762) scale(1.0261 1)" font-size="19.29" font-weight="bold" fill="#000">0</text>
<text transform="translate(1035.1 762) scale(0.9620 1)" font-size="19.29" font-weight="bold" fill="#000">200</text>
<text transform="translate(1108.28 762) scale(0.9501 1)" font-size="19.29" font-weight="bold" fill="#000">400</text>
<text transform="translate(1180.7 762) scale(0.9620 1)" font-size="19.29" font-weight="bold" fill="#000">600</text>
<text transform="translate(1253.6 762) scale(0.9590 1)" font-size="19.29" font-weight="bold" fill="#000">800</text>
<clipPath id="nf17"><path clip-rule="evenodd" d="M-500 -500H2000V500H-500ZM0.21 -3.77H4.5V1H0.21ZM7.15 -3.77H11.19V1H7.15Z"/></clipPath>
<text transform="translate(1320.59 762) scale(0.9708 1)" font-size="19.29" font-weight="bold" fill="#000" clip-path="url(#nf17)">1000</text>
<clipPath id="nf18"><path clip-rule="evenodd" d="M-500 -500H2000V500H-500ZM0.21 -3.77H4.5V1H0.21ZM7.15 -3.77H11.19V1H7.15Z"/></clipPath>
<text transform="translate(1393.39 762) scale(0.9708 1)" font-size="19.29" font-weight="bold" fill="#000" clip-path="url(#nf18)">1200</text>
<text transform="translate(939.56 650.6) scale(1.0024 1)" font-size="18.43" font-weight="bold" fill="#000">0,0</text>
<text transform="translate(933.15 740.4) scale(1.0191 1)" font-size="18.43" font-weight="bold" fill="#000">-0,2</text>
<text transform="translate(1174.27 799.3) scale(0.9281 1)" font-size="24.78" font-weight="bold" fill="#000">Time(s)</text>
<text transform="translate(918 718.22) rotate(-90) scale(0.8713 1)" font-size="26.81" font-weight="bold" fill="#000">I (nA)</text>
<line x1="1032.2" y1="633.4" x2="1417.4" y2="633.4" stroke="#000" stroke-width="8.2" stroke-linecap="round"/>
<line x1="1424.45" y1="609.8" x2="1445.95" y2="609.8" stroke="#000" stroke-width="8.7" stroke-linecap="round"/>
<text transform="translate(1460.96 614.6) scale(0.9499 1)" font-size="21.74" font-weight="bold" fill="#000">NMDG</text>
<text transform="translate(1523.43 608.4) scale(1.2258 1)" font-size="20.69" font-weight="normal" fill="#000">+</text>
<text transform="translate(1463.33 637.4) scale(0.8851 1)" font-size="21.88" font-weight="bold" fill="#000">CAPS</text>
<path d="M979.48 649.66L989.26 648.99L991.01 651L991.95 659.71L993.29 673.12L995.03 689.21L996.37 705.3L997.71 714.01L999.05 710.66L1000.39 699.93L1001.73 686.53L1003.34 677.14L1005.35 671.78L1007.36 668.43L1010.71 666.15L1015.41 664.41L1022.11 663.74L1028.14 664L1030.82 662.4L1036.86 659.04L1042.89 656.76L1048.92 655.96L1058.31 655.42L1067.69 655.96L1078.42 655.69L1089.14 656.36L1100 655.69L1117.2 655.66L1122.2 657.4L1124.69 655.66L1134.68 656.9L1144.67 658.65L1159.65 659.9L1179.63 660.65L1194.61 661.4L1214.58 660.65L1234.56 661.15L1254.53 660.4L1279.5 660.4L1291.99 659.9L1300.42 660.4L1310.41 661.9L1327.89 661.15L1340.37 661.9L1362.84 660.4L1387.81 659.9L1399.8 659.15L1400 660L1422.1 658.1L1424.1 656.4L1424.8 652.7L1428.2 649.3L1434.9 648.3L1448.3 647.6" fill="none" stroke="#111" stroke-width="1.7" stroke-linejoin="round" stroke-linecap="round"/>
</g>
<g id="panel-e">
<text transform="translate(902.76 879.6) scale(1.0846 1)" font-size="30.93" font-weight="bold" fill="#000">e</text>
<text transform="translate(978.5 878) scale(0.8593 1)" font-size="22.46" font-weight="bold" fill="#000">W.C.</text>
<line x1="998.8" y1="878" x2="998.8" y2="903.3" stroke="#222" stroke-width="1.3" stroke-linecap="butt"/>
<path d="M996.6 899.8L1001 899.8L998.8 906.3Z" fill="#111"/>
<line x1="981.7" y1="910.58" x2="981.7" y2="1001.85" stroke="#000" stroke-width="3.3" stroke-linecap="butt"/>
<line x1="980.05" y1="1000.2" x2="1535.9" y2="1000.2" stroke="#000" stroke-width="3.3" stroke-linecap="butt"/>
<line x1="981.7" y1="1000.2" x2="981.7" y2="1010.2" stroke="#000" stroke-width="2.64" stroke-linecap="butt"/>
<line x1="1073.67" y1="1000.2" x2="1073.67" y2="1010.2" stroke="#000" stroke-width="2.64" stroke-linecap="butt"/>
<line x1="1165.64" y1="1000.2" x2="1165.64" y2="1010.2" stroke="#000" stroke-width="2.64" stroke-linecap="butt"/>
<line x1="1257.61" y1="1000.2" x2="1257.61" y2="1010.2" stroke="#000" stroke-width="2.64" stroke-linecap="butt"/>
<line x1="1349.58" y1="1000.2" x2="1349.58" y2="1010.2" stroke="#000" stroke-width="2.64" stroke-linecap="butt"/>
<line x1="1441.55" y1="1000.2" x2="1441.55" y2="1010.2" stroke="#000" stroke-width="2.64" stroke-linecap="butt"/>
<line x1="1533.52" y1="1000.2" x2="1533.52" y2="1010.2" stroke="#000" stroke-width="2.64" stroke-linecap="butt"/>
<line x1="1027.68" y1="1000.2" x2="1027.68" y2="1005.7" stroke="#000" stroke-width="2.64" stroke-linecap="butt"/>
<line x1="1119.66" y1="1000.2" x2="1119.66" y2="1005.7" stroke="#000" stroke-width="2.64" stroke-linecap="butt"/>
<line x1="1211.62" y1="1000.2" x2="1211.62" y2="1005.7" stroke="#000" stroke-width="2.64" stroke-linecap="butt"/>
<line x1="1303.6" y1="1000.2" x2="1303.6" y2="1005.7" stroke="#000" stroke-width="2.64" stroke-linecap="butt"/>
<line x1="1395.57" y1="1000.2" x2="1395.57" y2="1005.7" stroke="#000" stroke-width="2.64" stroke-linecap="butt"/>
<line x1="1487.54" y1="1000.2" x2="1487.54" y2="1005.7" stroke="#000" stroke-width="2.64" stroke-linecap="butt"/>
<line x1="971.7" y1="911.9" x2="981.7" y2="911.9" stroke="#000" stroke-width="2.64" stroke-linecap="butt"/>
<line x1="971.7" y1="1000.2" x2="981.7" y2="1000.2" stroke="#000" stroke-width="2.64" stroke-linecap="butt"/>
<line x1="976.2" y1="957.3" x2="981.7" y2="957.3" stroke="#000" stroke-width="2.64" stroke-linecap="butt"/>
<text transform="translate(975.68 1031.3) scale(0.9856 1)" font-size="22" font-weight="bold" fill="#000">0</text>
<text transform="translate(1056.4 1031.3) scale(0.9517 1)" font-size="22" font-weight="bold" fill="#000">300</text>
<text transform="translate(1148.15 1031.3) scale(0.9577 1)" font-size="22" font-weight="bold" fill="#000">600</text>
<text transform="translate(1240.12 1031.3) scale(0.9577 1)" font-size="22" font-weight="bold" fill="#000">900</text>
<clipPath id="nf19"><path clip-rule="evenodd" d="M-500 -500H2000V500H-500ZM0.39 -4.05H5.13V1H0.39ZM8.15 -4.05H12.62V1H8.15Z"/></clipPath>
<text transform="translate(1325.27 1031.3) scale(0.9800 1)" font-size="22" font-weight="bold" fill="#000" clip-path="url(#nf19)">1200</text>
<clipPath id="nf20"><path clip-rule="evenodd" d="M-500 -500H2000V500H-500ZM0.39 -4.05H5.13V1H0.39ZM8.15 -4.05H12.62V1H8.15Z"/></clipPath>
<text transform="translate(1417.24 1031.3) scale(0.9800 1)" font-size="22" font-weight="bold" fill="#000" clip-path="url(#nf20)">1500</text>
<clipPath id="nf21"><path clip-rule="evenodd" d="M-500 -500H2000V500H-500ZM0.39 -4.05H5.13V1H0.39ZM8.15 -4.05H12.62V1H8.15Z"/></clipPath>
<text transform="translate(1509.21 1031.3) scale(0.9800 1)" font-size="22" font-weight="bold" fill="#000" clip-path="url(#nf21)">1800</text>
<text transform="translate(936.75 917.7) scale(0.9908 1)" font-size="21.57" font-weight="bold" fill="#000">0,0</text>
<clipPath id="nf22"><path clip-rule="evenodd" d="M-500 -500H2000V500H-500ZM25.53 -4H30.21V1H25.53ZM33.17 -4H37.57V1H33.17Z"/></clipPath>
<text transform="translate(931.52 1005.9) scale(1.0199 1)" font-size="21.57" font-weight="bold" fill="#000" clip-path="url(#nf22)">-0,1</text>
<clipPath id="clip-e"><rect x="1190" y="1040" width="140" height="35"/></clipPath>
<g clip-path="url(#clip-e)">
<text transform="translate(1205.63 1075.3) scale(0.9256 1)" font-size="29.57" font-weight="bold" fill="#000">Time (s)</text>
</g>
<text transform="translate(920 989.13) rotate(-90) scale(0.8670 1)" font-size="30.72" font-weight="bold" fill="#000">I (nA)</text>
<line x1="1049.5" y1="906.7" x2="1449.8" y2="906.7" stroke="#000" stroke-width="9.2" stroke-linecap="round"/>
<line x1="1458.8" y1="878.8" x2="1489.7" y2="878.8" stroke="#000" stroke-width="9.4" stroke-linecap="round"/>
<text transform="translate(1501.76 884) scale(0.9420 1)" font-size="21.88" font-weight="bold" fill="#000">NMDG</text>
<text transform="translate(1564.46 878.2) scale(1.1860 1)" font-size="20.86" font-weight="normal" fill="#000">+</text>
<text transform="translate(1503.21 911.2) scale(0.9047 1)" font-size="21.74" font-weight="bold" fill="#000">CAPS</text>
<path d="M983.5 912.34L997.98 912.34L999.32 914.35L999.72 943.85L999.99 976.02L1001.33 967.98L1002.67 986.75L1004.41 986.75L1006.02 978.7L1007.36 970.66L1008.7 961.27L1010.71 953.23L1012.73 946.53L1015.41 941.84L1019.43 938.48L1024.79 936.47L1030.15 935.13L1036.86 934.19L1042.22 934.73L1045.57 936.47L1047.58 939.15L1049.59 940.9L1052.28 939.15L1056.97 938.48L1067.69 937.81L1081.1 937.81L1100 937.41L1129.69 937.38L1154.66 937.88L1179.63 938.13L1204.59 938.88L1229.56 938.63L1254.53 939.13L1291.99 939.88L1300.42 940.37L1337.88 941.12L1375.33 941.12L1387.81 941.87L1412.78 941.12L1430.26 940.62L1443.4 940.9L1450.1 939.8L1454.8 942.2L1456.8 937.1L1459.5 933.8L1462.2 933.1L1466.9 935.8L1468.9 931.8L1472.9 928.4L1476.9 927.5L1483.6 927.5L1493 927.1" fill="none" stroke="#111" stroke-width="1.7" stroke-linejoin="round" stroke-linecap="round"/>
</g>
<g id="panel-f">
<text transform="translate(68.49 1113) scale(1.0541 1)" font-size="25.79" font-weight="bold" fill="#111">f</text>
<line x1="173.1" y1="1105.2" x2="173.1" y2="1533.4" stroke="#868686" stroke-width="1.6" stroke-linecap="butt"/>
<line x1="173.1" y1="1532.6" x2="1336.7" y2="1532.6" stroke="#868686" stroke-width="1.6" stroke-linecap="butt"/>
<line x1="165.5" y1="1532.6" x2="173.1" y2="1532.6" stroke="#868686" stroke-width="1.5" stroke-linecap="butt"/>
<text transform="translate(142.4 1537.8) scale(0.9929 1)" font-size="20.14" font-weight="normal" fill="#1a1a24">0</text>
<line x1="165.5" y1="1485.13" x2="173.1" y2="1485.13" stroke="#868686" stroke-width="1.5" stroke-linecap="butt"/>
<text transform="translate(131.2 1490.33) scale(0.9978 1)" font-size="20.14" font-weight="normal" fill="#1a1a24">20</text>
<line x1="165.5" y1="1437.66" x2="173.1" y2="1437.66" stroke="#868686" stroke-width="1.5" stroke-linecap="butt"/>
<text transform="translate(131.81 1442.86) scale(0.9694 1)" font-size="20.14" font-weight="normal" fill="#1a1a24">40</text>
<line x1="165.5" y1="1390.19" x2="173.1" y2="1390.19" stroke="#868686" stroke-width="1.5" stroke-linecap="butt"/>
<text transform="translate(131.2 1395.39) scale(0.9978 1)" font-size="20.14" font-weight="normal" fill="#1a1a24">60</text>
<line x1="165.5" y1="1342.72" x2="173.1" y2="1342.72" stroke="#868686" stroke-width="1.5" stroke-linecap="butt"/>
<text transform="translate(131.3 1347.92) scale(0.9929 1)" font-size="20.14" font-weight="normal" fill="#1a1a24">80</text>
<line x1="165.5" y1="1295.25" x2="173.1" y2="1295.25" stroke="#868686" stroke-width="1.5" stroke-linecap="butt"/>
<text transform="translate(120.41 1300.45) scale(0.9865 1)" font-size="20.14" font-weight="normal" fill="#1a1a24">100</text>
<line x1="165.5" y1="1247.78" x2="173.1" y2="1247.78" stroke="#868686" stroke-width="1.5" stroke-linecap="butt"/>
<text transform="translate(120.41 1252.98) scale(0.9865 1)" font-size="20.14" font-weight="normal" fill="#1a1a24">120</text>
<line x1="165.5" y1="1200.31" x2="173.1" y2="1200.31" stroke="#868686" stroke-width="1.5" stroke-linecap="butt"/>
<text transform="translate(120.41 1205.51) scale(0.9865 1)" font-size="20.14" font-weight="normal" fill="#1a1a24">140</text>
<line x1="165.5" y1="1152.84" x2="173.1" y2="1152.84" stroke="#868686" stroke-width="1.5" stroke-linecap="butt"/>
<text transform="translate(120.41 1158.04) scale(0.9865 1)" font-size="20.14" font-weight="normal" fill="#1a1a24">160</text>
<line x1="165.5" y1="1105.37" x2="173.1" y2="1105.37" stroke="#868686" stroke-width="1.5" stroke-linecap="butt"/>
<text transform="translate(120.41 1110.57) scale(0.9865 1)" font-size="20.14" font-weight="normal" fill="#1a1a24">180</text>
<line x1="173.1" y1="1532.6" x2="173.1" y2="1538.6" stroke="#868686" stroke-width="1.5" stroke-linecap="butt"/>
<line x1="339.3" y1="1532.6" x2="339.3" y2="1538.6" stroke="#868686" stroke-width="1.5" stroke-linecap="butt"/>
<line x1="505.5" y1="1532.6" x2="505.5" y2="1538.6" stroke="#868686" stroke-width="1.5" stroke-linecap="butt"/>
<line x1="671.7" y1="1532.6" x2="671.7" y2="1538.6" stroke="#868686" stroke-width="1.5" stroke-linecap="butt"/>
<line x1="837.9" y1="1532.6" x2="837.9" y2="1538.6" stroke="#868686" stroke-width="1.5" stroke-linecap="butt"/>
<line x1="1004.1" y1="1532.6" x2="1004.1" y2="1538.6" stroke="#868686" stroke-width="1.5" stroke-linecap="butt"/>
<line x1="1170.3" y1="1532.6" x2="1170.3" y2="1538.6" stroke="#868686" stroke-width="1.5" stroke-linecap="butt"/>
<line x1="1336.5" y1="1532.6" x2="1336.5" y2="1538.6" stroke="#868686" stroke-width="1.5" stroke-linecap="butt"/>
<rect x="213.1" y="1526.7" width="86.5" height="5.25" fill="#b80c97"/>
<line x1="257" y1="1524.3" x2="257" y2="1526.7" stroke="#0a0a0a" stroke-width="1.5" stroke-linecap="butt"/>
<line x1="252.4" y1="1524.5" x2="261.6" y2="1524.5" stroke="#0a0a0a" stroke-width="1.5" stroke-linecap="butt"/>
<rect x="380" y="1281.7" width="86" height="250.25" fill="#b80c97"/>
<line x1="423" y1="1250.7" x2="423" y2="1281.7" stroke="#0a0a0a" stroke-width="1.5" stroke-linecap="butt"/>
<line x1="418.4" y1="1250.9" x2="427.6" y2="1250.9" stroke="#0a0a0a" stroke-width="1.5" stroke-linecap="butt"/>
<rect x="545.3" y="1440" width="86.4" height="91.95" fill="#b80c97"/>
<line x1="589" y1="1397.3" x2="589" y2="1440" stroke="#0a0a0a" stroke-width="1.5" stroke-linecap="butt"/>
<line x1="584.4" y1="1397.5" x2="593.6" y2="1397.5" stroke="#0a0a0a" stroke-width="1.5" stroke-linecap="butt"/>
<rect x="712" y="1186.7" width="86.3" height="345.25" fill="#b80c97"/>
<line x1="755" y1="1136.7" x2="755" y2="1186.7" stroke="#0a0a0a" stroke-width="1.5" stroke-linecap="butt"/>
<line x1="750.4" y1="1136.9" x2="759.6" y2="1136.9" stroke="#0a0a0a" stroke-width="1.5" stroke-linecap="butt"/>
<rect x="877.3" y="1417.3" width="86.7" height="114.65" fill="#b80c97"/>
<line x1="921" y1="1375.7" x2="921" y2="1417.3" stroke="#0a0a0a" stroke-width="1.5" stroke-linecap="butt"/>
<line x1="916.4" y1="1375.9" x2="925.6" y2="1375.9" stroke="#0a0a0a" stroke-width="1.5" stroke-linecap="butt"/>
<rect x="1044" y="1513.3" width="86.7" height="18.65" fill="#b80c97"/>
<line x1="1087" y1="1510" x2="1087" y2="1513.3" stroke="#0a0a0a" stroke-width="1.5" stroke-linecap="butt"/>
<line x1="1082.4" y1="1510.2" x2="1091.6" y2="1510.2" stroke="#0a0a0a" stroke-width="1.5" stroke-linecap="butt"/>
<rect x="1209.3" y="1515.7" width="86.7" height="16.25" fill="#b80c97"/>
<line x1="1253" y1="1510" x2="1253" y2="1515.7" stroke="#0a0a0a" stroke-width="1.5" stroke-linecap="butt"/>
<line x1="1248.4" y1="1510.2" x2="1257.6" y2="1510.2" stroke="#0a0a0a" stroke-width="1.5" stroke-linecap="butt"/>
<text transform="translate(577.14 1358.4) scale(1.0149 1)" font-size="18.34" font-weight="bold" fill="#111">a,b</text>
<text transform="translate(734.46 1096.8) scale(0.9822 1)" font-size="18.34" font-weight="bold" fill="#111">a,b,c</text>
<text transform="translate(898.44 1341.1) scale(1.0148 1)" font-size="18.34" font-weight="bold" fill="#111">a,b,d</text>
<text transform="translate(1058.1 1464.1) scale(1.0031 1)" font-size="18.34" font-weight="bold" fill="#111">b,c,d,e</text>
<text transform="translate(1226.1 1475.1) scale(1.0084 1)" font-size="18.34" font-weight="bold" fill="#111">b,c,d,e</text>
<text transform="translate(417.51 1208.5) scale(0.8870 1)" font-size="18.33" font-weight="bold" fill="#111">a</text>
<text transform="translate(238.7 1511.8) scale(1.0151 1)" font-size="17.83" font-weight="bold" fill="#111">(12)</text>
<text transform="translate(409 1234) scale(1.0073 1)" font-size="17.83" font-weight="bold" fill="#111">(3)</text>
<text transform="translate(578.99 1383.3) scale(1.0222 1)" font-size="17.83" font-weight="bold" fill="#111">(3)</text>
<text transform="translate(742.96 1121.7) scale(1.0571 1)" font-size="17.83" font-weight="bold" fill="#111">(4)</text>
<text transform="translate(908.99 1366) scale(1.0222 1)" font-size="17.83" font-weight="bold" fill="#111">(4)</text>
<text transform="translate(1071.36 1489.3) scale(1.0521 1)" font-size="17.83" font-weight="bold" fill="#111">(4)</text>
<text transform="translate(1240.35 1500) scale(1.0671 1)" font-size="17.83" font-weight="bold" fill="#111">(4)</text>
<text transform="translate(224.89 1563.1) scale(1.0329 1)" font-size="17.14" font-weight="bold" fill="#111">Control</text>
<text transform="translate(365.74 1563.1) scale(0.9654 1)" font-size="17.14" font-weight="bold" fill="#111">Control+CAPS</text>
<text transform="translate(511.05 1563.1) scale(0.9521 1)" font-size="17.14" font-weight="bold" fill="#111">Control+CAPS+CPZ</text>
<text transform="translate(715.63 1563.1) scale(0.9621 1)" font-size="17.14" font-weight="bold" fill="#111">FM+CAPS</text>
<text transform="translate(860.65 1563.1) scale(0.9453 1)" font-size="17.14" font-weight="bold" fill="#111">FM+CAPS+CPZ</text>
<text transform="translate(1050.22 1563.1) scale(0.9292 1)" font-size="17.14" font-weight="bold" fill="#111">Se+CAPS</text>
<text transform="translate(1198.23 1563.1) scale(0.9624 1)" font-size="17.14" font-weight="bold" fill="#111">FM+Se+CAPS</text>
<text transform="translate(69.6 1423.5) rotate(-90) scale(0.8754 1)" font-size="23.04" font-weight="bold" fill="#111">TRPV1 Current Density</text>
<text transform="translate(97.4 1349.35) rotate(-90) scale(1.0161 1)" font-size="20.72" font-weight="bold" fill="#111">(pA/pF)</text>
</g>
</svg></body></html>
